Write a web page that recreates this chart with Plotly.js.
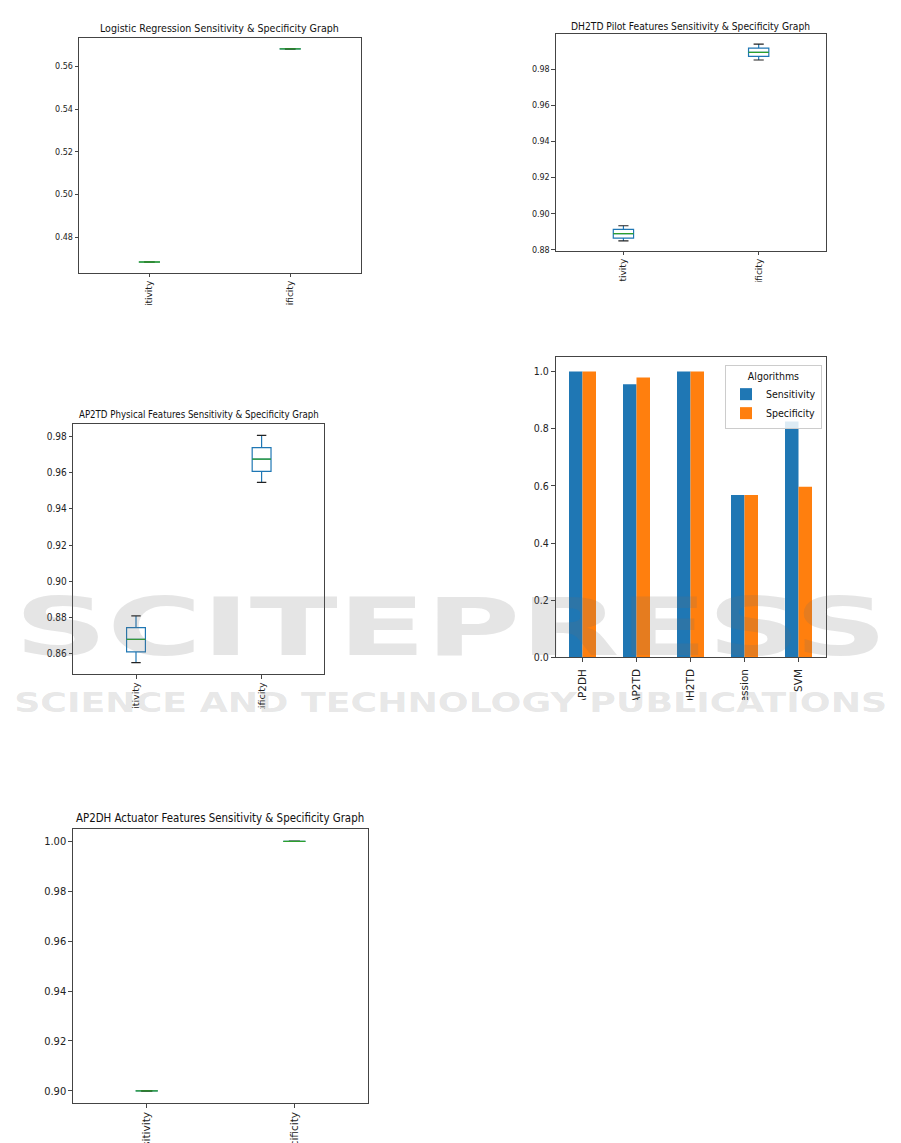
<!DOCTYPE html>
<html>
<head>
<meta charset="utf-8">
<script src="https://cdn.plot.ly/plotly-3.0.1.min.js"></script>
<style>
  html, body { margin: 0; padding: 0; background: #ffffff; }
  #chart { width: 901px; height: 1143px; }
</style>
</head>
<body>
<div id="chart"></div>
<script>
// ---- data -------------------------------------------------------------
// Box-plot summaries, each as [lower whisker, Q1, median, Q3, upper whisker]
const metricLabels = ['Sensitivity', 'Specificity'];

const lrSensitivity    = [0.4685, 0.4685, 0.4685, 0.4685, 0.4685];
const lrSpecificity    = [0.5682, 0.5682, 0.5682, 0.5682, 0.5682];

const dh2tdSensitivity = [0.8850, 0.8866, 0.8890, 0.8914, 0.8934];
const dh2tdSpecificity = [0.9850, 0.9870, 0.9892, 0.9916, 0.9938];

const ap2tdSensitivity = [0.8550, 0.8609, 0.8679, 0.8744, 0.8808];
const ap2tdSpecificity = [0.9547, 0.9608, 0.9676, 0.9739, 0.9807];

const ap2dhSensitivity = [0.90, 0.90, 0.90, 0.90, 0.90];
const ap2dhSpecificity = [1.00, 1.00, 1.00, 1.00, 1.00];

// Summary bar chart
const algorithms        = ['AP2DH', 'AP2TD', 'DH2TD', 'Logistic Regression', 'SVM'];
const sensitivityScores = [1.0, 0.9557, 1.0, 0.568, 0.8257];
const specificityScores = [1.0, 0.979, 1.0, 0.568, 0.5973];

// ---- page geometry helpers (pixels -> paper fractions) -----------------
const W = 901, H = 1143;
const px = v => v / W;
const py = v => 1 - v / H;

const BLUE = '#1f77b4', ORANGE = '#ff7f0e', GREEN = '#2ca02c';
const SPINE = '#444444';
const REG = "'DejaVu Sans', sans-serif";
const NARROW = "'Liberation Sans Narrow', 'DejaVu Sans Condensed', 'Liberation Sans', sans-serif";

// plot frames in pixels: [left, right, top, bottom]
const frames = {
  lr:    [79.0, 360.6, 38.3, 272.7],
  dh2td: [555.8, 826.3, 34.3, 250.7],
  ap2td: [73.2, 324.4, 424.0, 674.0],
  bars:  [555.5, 825.5, 357.3, 657.3],
  ap2dh: [72.9, 368.2, 829.0, 1103.3]
};

// ---- box plot panels ----------------------------------------------------
const BOX_W = 0.15;
function boxPanel(id, sens, spec) {
  const xa = 'x' + id, ya = 'y' + id;
  const stats = [sens, spec];
  const pos = [1, 2];
  const col = k => stats.map(s => s[k]);
  const box = {
    type: 'box', xaxis: xa, yaxis: ya, x: pos,
    lowerfence: col(0), q1: col(1), median: col(2), q3: col(3), upperfence: col(4),
    width: BOX_W, whiskerwidth: 0, boxpoints: false,
    line: { color: BLUE, width: 1.2 }, fillcolor: 'rgba(0,0,0,0)',
    showlegend: false, hoverinfo: 'skip'
  };
  // green median bar across each box
  const mx = [], my = [];
  pos.forEach((p, i) => {
    mx.push(p - BOX_W / 2, p + BOX_W / 2, null);
    my.push(stats[i][2], stats[i][2], null);
  });
  const medians = {
    type: 'scatter', mode: 'lines', xaxis: xa, yaxis: ya, x: mx, y: my,
    line: { color: GREEN, width: 1.3 }, showlegend: false, hoverinfo: 'skip'
  };
  // black whisker caps, half the box width
  const cx = [], cy = [];
  pos.forEach((p, i) => {
    [stats[i][0], stats[i][4]].forEach(v => {
      cx.push(p - BOX_W / 4, p + BOX_W / 4, null);
      cy.push(v, v, null);
    });
  });
  const caps = {
    type: 'scatter', mode: 'lines', xaxis: xa, yaxis: ya, x: cx, y: cy,
    line: { color: '#222222', width: 1.2 }, showlegend: false, hoverinfo: 'skip'
  };
  return [box, caps, medians];
}

const traces = [
  ...boxPanel('', lrSensitivity, lrSpecificity),
  ...boxPanel('2', dh2tdSensitivity, dh2tdSpecificity),
  ...boxPanel('3', ap2tdSensitivity, ap2tdSpecificity),
  ...boxPanel('5', ap2dhSensitivity, ap2dhSpecificity),
  {
    type: 'bar', name: 'Sensitivity', x: algorithms, y: sensitivityScores,
    xaxis: 'x4', yaxis: 'y4', marker: { color: BLUE }, hoverinfo: 'skip'
  },
  {
    type: 'bar', name: 'Specificity', x: algorithms, y: specificityScores,
    xaxis: 'x4', yaxis: 'y4', marker: { color: ORANGE }, hoverinfo: 'skip'
  }
];

// ---- axes ----------------------------------------------------------------
function frameAxes(f, anchorX, anchorY) {
  const base = {
    showline: true, mirror: true, linecolor: SPINE, linewidth: 1,
    showgrid: false, zeroline: false, ticks: 'outside', ticklen: 3.5,
    tickcolor: SPINE, tickwidth: 1, fixedrange: true
  };
  return {
    x: Object.assign({}, base, { domain: [px(f[0]), px(f[1])], anchor: anchorY }),
    y: Object.assign({}, base, { domain: [py(f[3]), py(f[2])], anchor: anchorX })
  };
}

function boxAxes(f, anchorX, anchorY, yRange, yTicks, tickFmt, yFont, xFont) {
  const a = frameAxes(f, anchorX, anchorY);
  Object.assign(a.x, {
    range: [0.5, 2.5], tickvals: [1, 2], ticktext: metricLabels,
    tickangle: -90, tickfont: xFont
  });
  Object.assign(a.y, {
    range: yRange, tickvals: yTicks, tickformat: tickFmt, tickfont: yFont
  });
  return a;
}

const regTick = { family: REG, size: 8, color: '#222' };
const regX = { family: REG, size: 9, color: '#222' };
const narTick = { family: NARROW, size: 10, color: '#222' };
const narX = { family: REG, size: 9.5, color: '#222' };

const a1 = boxAxes(frames.lr, 'x', 'y', [0.4635, 0.5731],
  [0.48, 0.50, 0.52, 0.54, 0.56], '.2f', regTick, regX);
const a2 = boxAxes(frames.dh2td, 'x2', 'y2', [0.8796, 0.9992],
  [0.88, 0.90, 0.92, 0.94, 0.96, 0.98], '.2f', regTick, regX);
const a3 = boxAxes(frames.ap2td, 'x3', 'y3', [0.8487, 0.9870],
  [0.86, 0.88, 0.90, 0.92, 0.94, 0.96, 0.98], '.2f', narTick, narX);
const a5 = boxAxes(frames.ap2dh, 'x5', 'y5', [0.895, 1.005],
  [0.90, 0.92, 0.94, 0.96, 0.98, 1.00], '.2f', { family: NARROW, size: 11, color: '#222' },
  { family: REG, size: 10.5, color: '#222' });

const a4 = frameAxes(frames.bars, 'x4', 'y4');
Object.assign(a4.x, {
  range: [-0.5, 4.5], tickangle: -90, type: 'category', ticklabelstandoff: 3,
  tickfont: { family: REG, size: 10.5, color: '#222' }
});
Object.assign(a4.y, {
  range: [0, 1.05], tickvals: [0, 0.2, 0.4, 0.6, 0.8, 1.0], tickformat: '.1f',
  tickfont: { family: NARROW, size: 10.5, color: '#222' }
});

// ---- titles --------------------------------------------------------------
function title(text, cx, cy, font) {
  return {
    text, xref: 'paper', yref: 'paper', x: px(cx), y: py(cy),
    xanchor: 'center', yanchor: 'middle', showarrow: false, font
  };
}
const titles = [
  title('Logistic Regression Sensitivity &amp; Specificity Graph', 219.7, 28.0,
    { family: NARROW, size: 10.6, color: '#111' }),
  title('DH2TD Pilot Features Sensitivity &amp; Specificity Graph', 690.8, 26.0,
    { family: NARROW, size: 10.2, color: '#111' }),
  title('AP2TD Physical Features Sensitivity &amp; Specificity Graph', 198.8, 414.3,
    { family: NARROW, size: 9.6, color: '#111' }),
  title('AP2DH Actuator Features Sensitivity &amp; Specificity Graph', 219.5, 818.3,
    { family: NARROW, size: 11.4, color: '#111' })
];

// ---- publisher watermark ----------------------------------------------------
// Each line is stretched to run across the page once drawn (see below).
const WM_COLOR = 'rgba(110,110,110,0.18)';
const WM_SPAN = 873;
const watermark = [
  {
    text: 'SCITEPRESS',
    xref: 'paper', yref: 'paper', x: px(450.5), y: py(627), xanchor: 'center', yanchor: 'middle',
    showarrow: false, font: { family: "'DejaVu Sans'", size: 80, weight: 'bold', color: WM_COLOR }
  },
  {
    text: 'SCIENCE AND TECHNOLOGY PUBLICATIONS',
    xref: 'paper', yref: 'paper', x: px(450.5), y: py(702.5), xanchor: 'center', yanchor: 'middle',
    showarrow: false, font: { family: "'DejaVu Sans'", size: 26, weight: 'bold', color: WM_COLOR }
  }
];

// ---- white bands where the tick labels run off each panel ------------------
function band(x0, x1, y0, y1) {
  return {
    type: 'rect', xref: 'paper', yref: 'paper', layer: 'above',
    x0: px(x0), x1: px(x1), y0: py(y1), y1: py(y0),
    fillcolor: '#ffffff', line: { width: 0 }
  };
}
const bands = [
  band(40, 400, 305, 395),
  band(520, 860, 282, 340),
  band(40, 400, 709, 800),
  band(520, 860, 700, 800)
];

const layout = {
  width: W, height: H,
  margin: { l: 0, r: 0, t: 0, b: 0 },
  paper_bgcolor: '#ffffff', plot_bgcolor: '#ffffff',
  showlegend: true,
  barmode: 'group', bargap: 0.5, bargroupgap: 0,
  legend: {
    x: px(822), y: py(365), xanchor: 'right', yanchor: 'top',
    bgcolor: 'rgba(255,255,255,0.85)', bordercolor: '#cccccc', borderwidth: 1,
    font: { family: NARROW, size: 10.5, color: '#111' },
    title: { text: 'Algorithms', side: 'top center', font: { family: NARROW, size: 10.5, color: '#111' } },
    itemwidth: 30, tracegroupgap: 0
  },
  xaxis: a1.x, yaxis: a1.y,
  xaxis2: a2.x, yaxis2: a2.y,
  xaxis3: a3.x, yaxis3: a3.y,
  xaxis4: a4.x, yaxis4: a4.y,
  xaxis5: a5.x, yaxis5: a5.y,
  annotations: [...titles, ...watermark],
  shapes: bands
};

Plotly.newPlot('chart', traces, layout, { staticPlot: true, displayModeBar: false })
  .then(gd => {
    // stretch the watermark lines so their glyphs span the full page width
    gd.querySelectorAll('.annotation-text').forEach(t => {
      const s = t.textContent;
      if (s === 'SCITEPRESS' || s === 'SCIENCE AND TECHNOLOGY PUBLICATIONS') {
        t.setAttribute('textLength', WM_SPAN);
        t.setAttribute('lengthAdjust', 'spacingAndGlyphs');
      }
    });
  });
</script>
</body>
</html>
